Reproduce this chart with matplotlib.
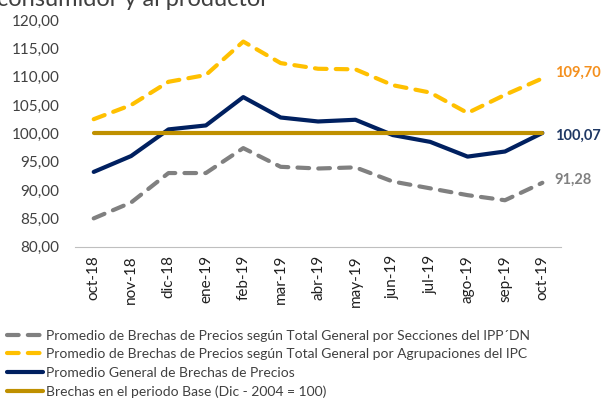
import matplotlib.pyplot as plt

meses = ['oct-18', 'nov-18', 'dic-18', 'ene-19', 'feb-19', 'mar-19', 'abr-19',
         'may-19', 'jun-19', 'jul-19', 'ago-19', 'sep-19', 'oct-19']

ipp = [85.0, 87.8, 93.0, 93.0, 97.4, 94.1, 93.8, 94.0, 91.5, 90.3, 89.1, 88.2, 91.28]
ipc = [102.5, 105.0, 109.1, 110.3, 116.2, 112.4, 111.4, 111.3, 108.5, 107.2, 103.6, 106.8, 109.70]
general = [93.2, 96.0, 100.7, 101.4, 106.4, 102.8, 102.1, 102.4, 99.7, 98.5, 95.9, 96.8, 100.07]
base = [100] * len(meses)

etiquetas = ['Promedio de Brechas de Precios según Total General por Secciones del IPP´DN',
             'Promedio de Brechas de Precios según Total General por Agrupaciones del IPC',
             'Promedio General de Brechas de Precios',
             'Brechas en el periodo Base (Dic - 2004 = 100)']

plt.rcParams['font.family'] = ['Lato', 'DejaVu Sans']

fig = plt.figure(figsize=(6.07, 4.03), dpi=100)
ax = fig.add_axes([0.1236, 0.3878, 0.8007, 0.5625])

x = range(len(meses))
dash = (2.8, 2.2)
ax.plot(x, ipp, color='#808080', lw=3, ls=(0, dash), dash_capstyle='round', label=etiquetas[0])
ax.plot(x, ipc, color='#FFC000', lw=3, ls=(0, dash), dash_capstyle='round', label=etiquetas[1])
ax.plot(x, general, color='#002060', lw=3, solid_capstyle='round', label=etiquetas[2])
ax.plot(x, base, color='#BF9000', lw=3, solid_capstyle='round', label=etiquetas[3])

ax.set_xlim(-0.5, len(meses) - 0.5)
ax.set_ylim(80, 120)
ax.set_yticks(range(80, 121, 5))
ax.set_yticklabels([f'{v},00' for v in range(80, 121, 5)], fontsize=11, color='#404040')
ax.set_xticks(list(x))
ax.set_xticklabels(meses, rotation=90, fontsize=11, color='#202020')
ax.tick_params(axis='x', length=0, pad=6)
ax.tick_params(axis='y', length=0, pad=11)
for s in ['left', 'right', 'top']:
    ax.spines[s].set_visible(False)
ax.spines['bottom'].set_color('#BFBFBF')

# etiquetas finales
n = len(meses) - 1
ax.annotate('109,70', (n, ipc[-1]), xytext=(9, 4), textcoords='offset points',
            color='#F4901E', fontsize=10.5, fontweight='bold', va='center')
ax.annotate('100,07', (n, general[-1]), xytext=(9, -2), textcoords='offset points',
            color='#1F3864', fontsize=10.5, fontweight='bold', va='center')
ax.annotate('91,28', (n, ipp[-1]), xytext=(9, 2), textcoords='offset points',
            color='#808080', fontsize=10.5, fontweight='bold', va='center')

# titulo recortado en el borde superior, como en el original
fig.text(-0.005, 1.0, 'consumidor y al productor', fontsize=17, color='#404040',
         va='center', ha='left')

fig.legend(loc='lower left', bbox_to_anchor=(0.0, -0.005), frameon=False, fontsize=10,
           labelcolor='#404040', handlelength=2.6, handletextpad=0.2,
           labelspacing=0.48, borderpad=0.0)

fig.savefig('out.png', dpi=100)
